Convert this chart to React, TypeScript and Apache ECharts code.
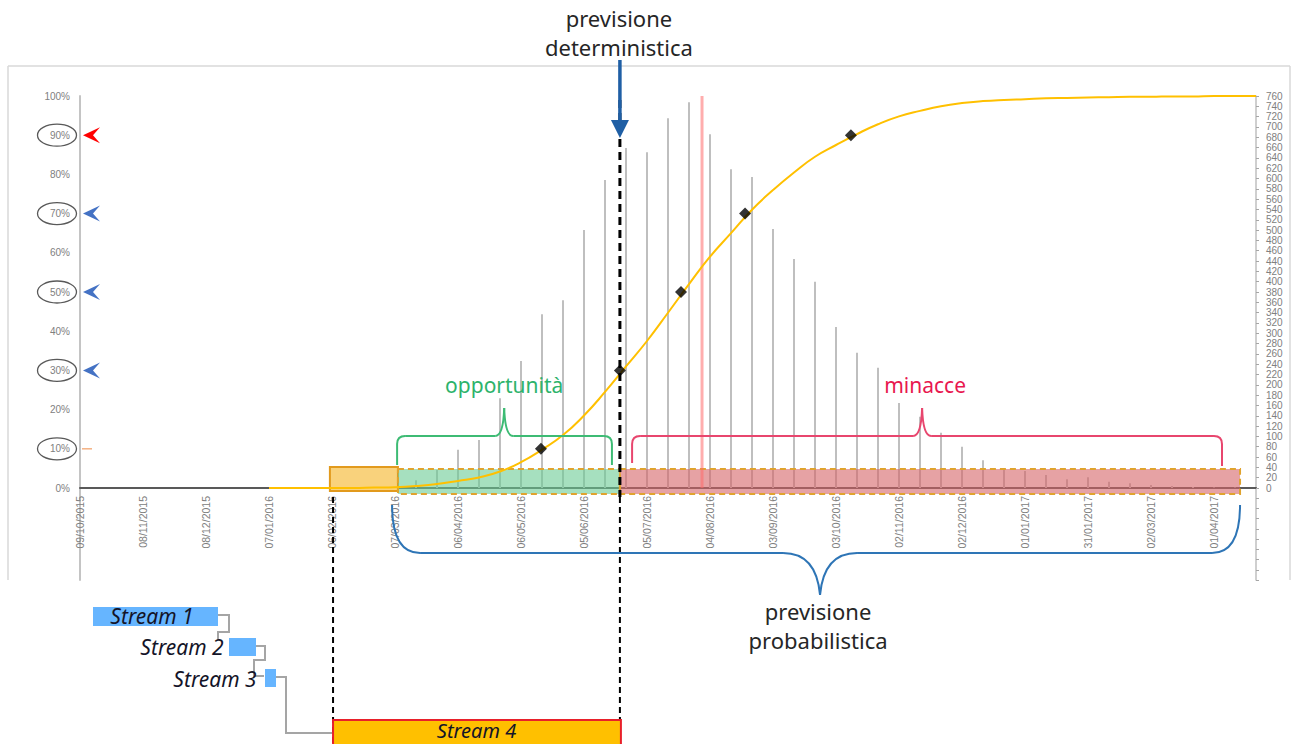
import React, { useEffect, useRef } from "react";
import * as echarts from "echarts";

// ---- DATA ----
const categories = [
  "09/10/2015", "19/10/2015", "29/10/2015", "08/11/2015", "18/11/2015", "28/11/2015",
  "08/12/2015", "18/12/2015", "28/12/2015", "07/01/2016", "17/01/2016", "27/01/2016",
  "06/02/2016", "16/02/2016", "26/02/2016", "07/03/2016", "17/03/2016", "27/03/2016",
  "06/04/2016", "16/04/2016", "26/04/2016", "06/05/2016", "16/05/2016", "26/05/2016",
  "05/06/2016", "15/06/2016", "25/06/2016", "05/07/2016", "15/07/2016", "25/07/2016",
  "04/08/2016", "14/08/2016", "24/08/2016", "03/09/2016", "13/09/2016", "23/09/2016",
  "03/10/2016", "13/10/2016", "23/10/2016", "02/11/2016", "12/11/2016", "22/11/2016",
  "02/12/2016", "12/12/2016", "22/12/2016", "01/01/2017", "11/01/2017", "21/01/2017",
  "31/01/2017", "10/02/2017", "20/02/2017", "02/03/2017", "12/03/2017", "22/03/2017",
  "01/04/2017", "11/04/2017", "21/04/2017",
];

// histogram (right axis, 0..760)
const binCounts = [
  0, 0, 0, 0, 0, 0, 0, 0, 0, 0, 0, 0, 0, 0, 0, 0,
  15, 35, 74, 93, 174, 246, 337, 364, 500, 597, 659, 651, 717, 748, 686, 618,
  603, 502, 444, 400, 312, 262, 233, 165, 138, 107, 80, 54, 35, 33, 25, 17,
  21, 12, 9, 6, 4, 2, 1, 1, 0,
];

// cumulative probability (left axis, %)
const cumulativePct = [
  null, null, null, null, null, null, null, null, null,
  0, 0, 0, 0, 0, 0.1, 0.2, 0.5, 1.0, 1.8, 2.7, 4.2, 6.6, 9.8, 13.5, 18.5,
  24.5, 31, 37.5, 44.7, 52, 59, 65, 71, 76, 80.5, 84.5, 87.5, 90.3, 92.8, 94.8,
  96.2, 97.4, 98.2, 98.7, 99.0, 99.2, 99.4, 99.5, 99.6, 99.7, 99.8, 99.8, 99.9,
  99.9, 100, 100, 100,
];

// quantile markers (position in bins, %)
const quantileIdx = [21.95, 25.71, 28.62, 31.67, 36.71];
const quantilePct = [10, 30, 50, 70, 90];

// annotation positions (in bins)
const deterministicIdx = 25.71;
const redLineIdx = 29.62;
const stream4Span = [12.05, 25.71];
const orangeSpan = [11.9, 15.14];
const greenSpan = [15.14, 25.71];
const redSpan = [25.71, 55.24];
const greenBrace = [15.1, 20.2, 25.33];
const redBrace = [26.29, 40.1, 54.38];
const blueBrace = [14.86, 35.24, 55.24];

const levelMarks = [90, 70, 50, 30];
const levelColors = ["#ff0000", "#4472c4", "#4472c4", "#4472c4"];
const circledLevels = [90, 70, 50, 30, 10];

const FONT = "Noto Sans";

function braceEls(
  x1: number, x2: number, xm: number, y: number,
  yEndL: number, yEndR: number, yTip: number,
  rx: number, ry: number, rc: number, color: string, lw: number, z: number
) {
  const els: any[] = [];
  const sl = Math.sign(yEndL - y), sr = Math.sign(yEndR - y);
  const st = () => ({ stroke: color, lineWidth: lw, fill: "none" });
  const line = (a: number, b: number, c: number, d: number) => ({
    type: "line", silent: true, z, shape: { x1: a, y1: b, x2: c, y2: d }, style: st(),
  });
  const curve = (a: number, b: number, cx: number, cy: number, c: number, d: number) => ({
    type: "bezierCurve", silent: true, z,
    shape: { x1: a, y1: b, cpx1: cx, cpy1: cy, x2: c, y2: d }, style: st(),
  });
  if (Math.abs(yEndL - y) > ry) els.push(line(x1, yEndL, x1, y + sl * ry));
  els.push(curve(x1, y + sl * ry, x1, y, x1 + rx, y));
  els.push(line(x1 + rx, y, xm - rc, y));
  els.push(curve(xm - rc, y, xm - rc * 0.1, y, xm, yTip));
  els.push(curve(xm, yTip, xm + rc * 0.1, y, xm + rc, y));
  els.push(line(xm + rc, y, x2 - rx, y));
  els.push(curve(x2 - rx, y, x2, y, x2, y + sr * ry));
  if (Math.abs(yEndR - y) > ry) els.push(line(x2, y + sr * ry, x2, yEndR));
  return els;
}

export default function App() {
  const ref = useRef<HTMLDivElement>(null);

  useEffect(() => {
    if (!ref.current) return;
    const chart = echarts.init(ref.current, null, { renderer: "svg" });
    const axisLabelFont = "Liberation Sans";
    const option: any = {
      animation: false,
      backgroundColor: "#ffffff",
      grid: [
        { left: 80, right: 42, top: 96, bottom: 256 },
        { left: 80, right: 42, top: 488, bottom: 164 },
      ],
      xAxis: [
        {
          type: "category", gridIndex: 0, data: categories, boundaryGap: false,
          axisLine: { onZero: false, lineStyle: { color: "#595959", width: 2 } },
          axisTick: { show: false },
          axisLabel: {
            rotate: 90, interval: 2, fontSize: 10.5, color: "#808080", margin: 8,
            fontFamily: axisLabelFont,
          },
          splitLine: { show: false },
        },
        { type: "value", gridIndex: 0, min: 0, max: 56, show: false },
        { type: "value", gridIndex: 1, min: 0, max: 1, show: false },
      ],
      yAxis: [
        {
          type: "value", gridIndex: 0, position: "left", min: 0, max: 100, interval: 10,
          axisLine: { show: true, onZero: false, lineStyle: { color: "#c4c4c4", width: 2 } },
          axisTick: { show: false }, splitLine: { show: false },
          axisLabel: { formatter: "{value}%", fontSize: 10, color: "#808080", margin: 10, fontFamily: axisLabelFont },
        },
        {
          type: "value", gridIndex: 0, position: "right", min: 0, max: 760, interval: 20,
          axisLine: { show: true, onZero: false, lineStyle: { color: "#bfbfbf", width: 1.5 } },
          axisTick: { show: true, length: 3, lineStyle: { color: "#a6a6a6" } },
          splitLine: { show: false },
          axisLabel: { fontSize: 10, color: "#808080", margin: 10, fontFamily: axisLabelFont },
        },
        {
          type: "value", gridIndex: 1, position: "left", min: -30, max: 0,
          axisLine: { show: true, onZero: false, lineStyle: { color: "#c4c4c4", width: 2 } },
          axisTick: { show: false }, axisLabel: { show: false }, splitLine: { show: false },
        },
        {
          type: "value", gridIndex: 1, position: "right", min: -180, max: 0, interval: 20,
          axisLine: { show: true, onZero: false, lineStyle: { color: "#bfbfbf", width: 1.5 } },
          axisTick: { show: true, length: 3, lineStyle: { color: "#a6a6a6" } },
          axisLabel: { show: false }, splitLine: { show: false },
        },
      ],
      series: [
        {
          name: "frequenza", type: "bar", xAxisIndex: 0, yAxisIndex: 1, data: binCounts,
          barWidth: 2, itemStyle: { color: "#bfbfbf" }, z: 2, silent: true,
        },
        {
          name: "probabilità cumulata", type: "line", xAxisIndex: 0, yAxisIndex: 0,
          data: cumulativePct, smooth: 0.5, showSymbol: false,
          lineStyle: { color: "#ffc000", width: 2 }, z: 5, silent: true,
        },
        {
          name: "quantili", type: "scatter", xAxisIndex: 1, yAxisIndex: 0,
          data: quantileIdx.map((x, i) => [x, quantilePct[i]]),
          symbol: "diamond", symbolSize: 12, itemStyle: { color: "#000000" }, z: 8, silent: true,
        },
        {
          name: "linea rossa", type: "line", xAxisIndex: 1, yAxisIndex: 0,
          data: [[redLineIdx, 0], [redLineIdx, 100]], symbol: "none",
          lineStyle: { color: "rgba(255,105,105,0.55)", width: 3 }, z: 4, silent: true,
        },
      ],
    };
    chart.setOption(option);

    const px = (v: number) => chart.convertToPixel({ xAxisIndex: 1 }, v) as number;
    const py = (v: number) => chart.convertToPixel({ yAxisIndex: 0 }, v) as number;
    const y0 = py(0);
    const x0 = px(0);
    const g: any[] = [];

    // chart frame
    const frame = { stroke: "#d9d9d9", lineWidth: 1.5 };
    g.push({ type: "line", z: 0, shape: { x1: 8, y1: 66, x2: 1290, y2: 66 }, style: frame });
    g.push({ type: "line", z: 0, shape: { x1: 8, y1: 66, x2: 8, y2: 580 }, style: { ...frame } });
    g.push({ type: "line", z: 0, shape: { x1: 1290, y1: 66, x2: 1290, y2: 580 }, style: { ...frame } });

    // ellipses around % labels
    circledLevels.forEach((p) => {
      g.push({
        type: "ellipse", z: 10, silent: true,
        shape: { cx: x0 - 23, cy: py(p), rx: 19.5, ry: 11 },
        style: { stroke: "#595959", fill: "none", lineWidth: 1.3 },
      });
    });
    // arrowheads at levels
    levelMarks.forEach((p, i) => {
      const y = py(p);
      g.push({
        type: "polygon", z: 10, silent: true,
        shape: { points: [[x0 + 3, y], [x0 + 20, y - 8], [x0 + 13, y], [x0 + 20, y + 8]] },
        style: { fill: levelColors[i] },
      });
    });
    g.push({
      type: "line", z: 10, silent: true,
      shape: { x1: x0 + 2, y1: py(10), x2: x0 + 12, y2: py(10) },
      style: { stroke: "#f4b183", lineWidth: 1.5 },
    });

    // rectangles
    g.push({
      type: "rect", z: 3, silent: true,
      shape: { x: px(orangeSpan[0]), y: y0 - 21, width: px(orangeSpan[1]) - px(orangeSpan[0]), height: 24 },
      style: { fill: "#f9d27c", stroke: "#e29a1d", lineWidth: 2 },
    });
    g.push({
      type: "rect", z: 3, silent: true,
      shape: { x: px(greenSpan[0]), y: y0 - 19, width: px(greenSpan[1]) - px(greenSpan[0]), height: 25 },
      style: { fill: "rgba(107,203,148,0.6)", stroke: "#e0a32e", lineWidth: 2, lineDash: [6, 4] },
    });
    g.push({
      type: "rect", z: 3, silent: true,
      shape: { x: px(redSpan[0]), y: y0 - 19, width: px(redSpan[1]) - px(redSpan[0]), height: 25 },
      style: { fill: "rgba(213,100,103,0.6)", stroke: "#e0a32e", lineWidth: 2, lineDash: [6, 4] },
    });

    // braces
    g.push(...braceEls(px(greenBrace[0]), px(greenBrace[2]), px(greenBrace[1]), y0 - 52,
      y0 - 23, y0 - 23, y0 - 80, 8, 8, 9, "#3dbb74", 2, 9));
    g.push(...braceEls(px(redBrace[0]), px(redBrace[2]), px(redBrace[1]), y0 - 52,
      y0 - 25, y0 - 22, y0 - 80, 8, 8, 9, "#e8466e", 2, 9));
    g.push(...braceEls(px(blueBrace[0]), px(blueBrace[2]), px(blueBrace[1]), y0 + 65,
      y0 + 17, y0 + 17, y0 + 107, 28, 48, 37, "#2e75b6", 2, 9));

    g.push({
      type: "text", z: 10, silent: true, x: px(greenBrace[1]), y: y0 - 103,
      style: { text: "opportunità", fill: "#2db36b", fontSize: 21, fontFamily: FONT, align: "center", verticalAlign: "middle" },
    });
    g.push({
      type: "text", z: 10, silent: true, x: px(redBrace[1]) + 3, y: y0 - 103,
      style: { text: "minacce", fill: "#e8174f", fontSize: 21, fontFamily: FONT, align: "center", verticalAlign: "middle" },
    });
    g.push({
      type: "text", z: 10, silent: true, x: px(blueBrace[1]) - 2, y: 625,
      style: { text: "previsione\nprobabilistica", fill: "#262626", fontSize: 22, lineHeight: 29, fontFamily: FONT, align: "center", verticalAlign: "middle" },
    });

    // deterministic forecast
    const xd = px(deterministicIdx);
    g.push({
      type: "text", z: 10, silent: true, x: xd - 1, y: 32,
      style: { text: "previsione\ndeterministica", fill: "#262626", fontSize: 22, lineHeight: 29, fontFamily: FONT, align: "center", verticalAlign: "middle" },
    });
    g.push({
      type: "line", z: 6, silent: true, shape: { x1: xd, y1: 100, x2: xd, y2: y0 + 9 },
      style: { stroke: "#000", lineWidth: 3, lineDash: [8, 5] },
    });
    g.push({
      type: "line", z: 6, silent: true, shape: { x1: xd, y1: y0 + 9, x2: xd, y2: 744 },
      style: { stroke: "#000", lineWidth: 2, lineDash: [6, 4] },
    });
    g.push({
      type: "line", z: 11, silent: true, shape: { x1: xd, y1: 60, x2: xd, y2: 122 },
      style: { stroke: "#1f5fa5", lineWidth: 3.5 },
    });
    g.push({
      type: "polygon", z: 11, silent: true,
      shape: { points: [[xd - 9, 120], [xd + 9, 120], [xd, 138]] },
      style: { fill: "#1f5fa5" },
    });
    const xs = px(stream4Span[0]);
    g.push({
      type: "line", z: 6, silent: true, shape: { x1: xs, y1: y0 + 9, x2: xs, y2: 744 },
      style: { stroke: "#000", lineWidth: 2, lineDash: [6, 4] },
    });

    // Gantt streams
    const conn = { stroke: "#a5a5a5", lineWidth: 2, fill: "none" };
    g.push({ type: "rect", z: 8, silent: true, shape: { x: 93, y: 607, width: 125, height: 19 }, style: { fill: "#66b5ff" } });
    g.push({ type: "rect", z: 8, silent: true, shape: { x: 229, y: 638, width: 27, height: 18 }, style: { fill: "#66b5ff" } });
    g.push({ type: "rect", z: 8, silent: true, shape: { x: 265, y: 669, width: 11, height: 18 }, style: { fill: "#66b5ff" } });
    g.push({ type: "polyline", z: 7, silent: true, shape: { points: [[218, 615], [229, 615], [229, 632], [218, 632], [218, 640]] }, style: { ...conn } });
    g.push({ type: "polyline", z: 7, silent: true, shape: { points: [[256, 646], [265, 646], [265, 660], [254, 660], [254, 676], [264, 676]] }, style: { ...conn } });
    g.push({ type: "polyline", z: 7, silent: true, shape: { points: [[276, 677], [286, 677], [286, 733], [xs, 733]] }, style: { ...conn } });
    g.push({
      type: "rect", z: 8, silent: true,
      shape: { x: xs, y: 720, width: xd - xs + 1, height: 30 },
      style: { fill: "#ffc000", stroke: "#e8202a", lineWidth: 2 },
    });
    const streamText = (t: string, x: number, y: number, fs = 21) => ({
      type: "text", z: 12, silent: true, x, y,
      style: { text: t, fill: "#141428", fontSize: fs, fontStyle: "italic", fontFamily: FONT, align: "center", verticalAlign: "middle" },
    });
    g.push(streamText("Stream 1", 152, 616));
    g.push(streamText("Stream 2", 182, 647));
    g.push(streamText("Stream 3", 215, 679));
    g.push(streamText("Stream 4", (xs + xd) / 2, 730, 20));

    chart.setOption({ graphic: g });

    return () => chart.dispose();
  }, []);

  return (
    <div
      ref={ref}
      style={{ position: "absolute", left: 0, top: 0, width: 1298, height: 744, background: "#fff" }}
    />
  );
}
